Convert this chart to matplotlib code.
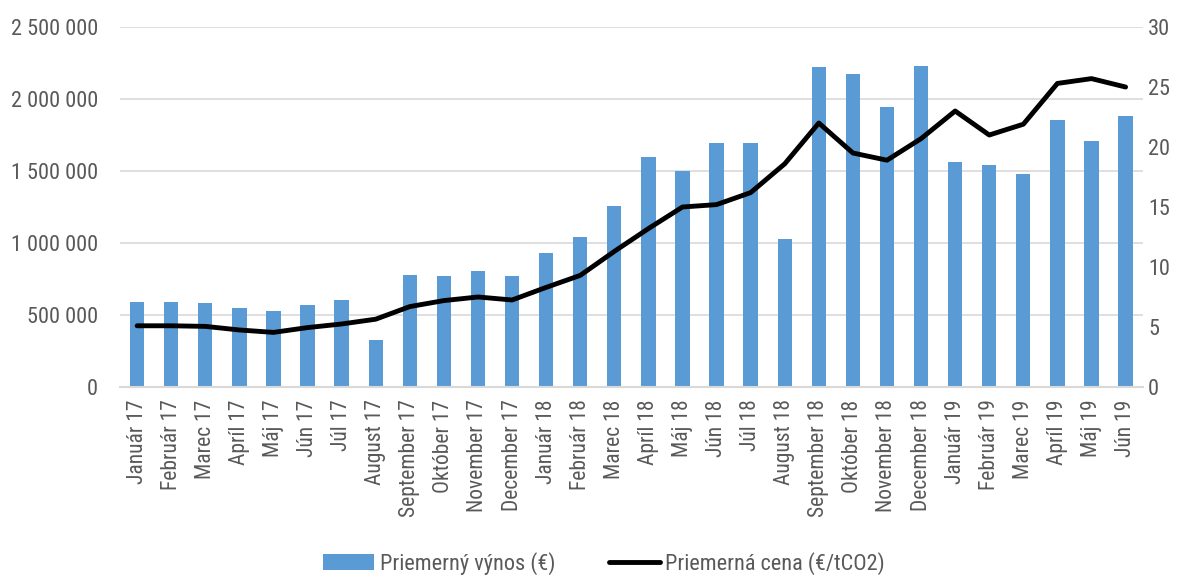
import matplotlib
matplotlib.use("Agg")
import matplotlib.pyplot as plt
from matplotlib import font_manager
import numpy as np

months = ["Január 17", "Február 17", "Marec 17", "Apríl 17", "Máj 17", "Jún 17", "Júl 17",
          "August 17", "September 17", "Október 17", "November 17", "December 17",
          "Január 18", "Február 18", "Marec 18", "Apríl 18", "Máj 18", "Jún 18", "Júl 18",
          "August 18", "September 18", "Október 18", "November 18", "December 18",
          "Január 19", "Február 19", "Marec 19", "Apríl 19", "Máj 19", "Jún 19"]

revenue = [590000, 590000, 585000, 548000, 525000, 570000, 603000, 325000,
           775000, 773000, 808000, 772000, 930000, 1040000, 1255000, 1595000,
           1497000, 1695000, 1697000, 1025000, 2225000, 2172000, 1945000, 2228000,
           1560000, 1540000, 1480000, 1855000, 1705000, 1880000]

price = [5.1, 5.1, 5.05, 4.75, 4.55, 4.95, 5.25, 5.65, 6.7, 7.2, 7.5, 7.25,
         8.3, 9.3, 11.3, 13.2, 15.0, 15.2, 16.2, 18.6, 22.0, 19.5, 18.9, 20.7,
         23.0, 21.0, 21.9, 25.3, 25.7, 25.0]

left_ticks = [0, 500000, 1000000, 1500000, 2000000, 2500000]
right_ticks = [0, 5, 10, 15, 20, 25, 30]

names = {f.name for f in font_manager.fontManager.ttflist}
stretch = "normal"
fam = None
for cand in ["Liberation Sans Narrow", "Roboto Condensed", "Open Sans Condensed",
             "DejaVu Sans Condensed", "Noto Sans Condensed"]:
    if cand in names:
        fam = cand
        break
if fam is None:
    cond = [f for f in font_manager.fontManager.ttflist
            if f.name in ("Noto Sans", "Open Sans", "DejaVu Sans", "Roboto")
            and str(f.stretch) in ("condensed", "semi-condensed", "extra-condensed", "75", "87", "62")
            and f.style == "normal"]
    if cond:
        fam = cond[0].name
        stretch = cond[0].stretch
if fam is None:
    fam = "Liberation Sans"
    fs = 14
    fsx = 13.5
else:
    fs = 16
    fsx = 15.5

plt.rcParams['font.family'] = [fam, 'DejaVu Sans']
plt.rcParams['font.stretch'] = stretch

txt = "#595959"
grid = "#d9d9d9"

fig = plt.figure(figsize=(11.89, 5.75), dpi=100)
ax = fig.add_axes([0.101, 0.327, 0.860, 0.626])
ax2 = ax.twinx()

x = np.arange(len(months))
ax.bar(x, revenue, width=0.42, color="#5b9bd5", label="Priemerný výnos (€)", zorder=2)
ax2.plot(x, price, color="black", lw=3.5, solid_capstyle="round",
         label="Priemerná cena (€/tCO2)", zorder=3)

ax.set_xlim(-0.5, len(months) - 0.5)
ax.set_ylim(0, 2500000)
ax2.set_ylim(0, 30)
ax.set_yticks(left_ticks)
ax.set_yticklabels([f"{v:,}".replace(",", " ") for v in left_ticks])
ax2.set_yticks(right_ticks)
ax2.set_yticklabels([str(v) for v in right_ticks])
ax.set_xticks(x)
ax.set_xticklabels(months, rotation=90)

ax.grid(axis="y", color=grid, lw=1.2, zorder=0)
ax.set_axisbelow(True)
for a in (ax, ax2):
    for s in a.spines.values():
        s.set_visible(False)
ax.spines["bottom"].set_visible(True)
ax.spines["bottom"].set_color(grid)
ax.spines["bottom"].set_linewidth(1.5)
ax.tick_params(axis="both", length=0, labelsize=fs, colors=txt)
ax.tick_params(axis="x", labelsize=fsx, pad=9)
ax.tick_params(axis="y", pad=16)
ax2.tick_params(axis="y", length=0, labelsize=fs, colors=txt, pad=4)

h1, l1 = ax.get_legend_handles_labels()
h2, l2 = ax2.get_legend_handles_labels()
fig.legend(h1 + h2, l1 + l2, loc="lower center", bbox_to_anchor=(0.508, -0.035), ncol=2,
           frameon=False, fontsize=fs, labelcolor=txt, handlelength=2.3, handletextpad=0.25,
           columnspacing=2.4, handleheight=0.7)

fig.savefig("out.png", dpi=100)
